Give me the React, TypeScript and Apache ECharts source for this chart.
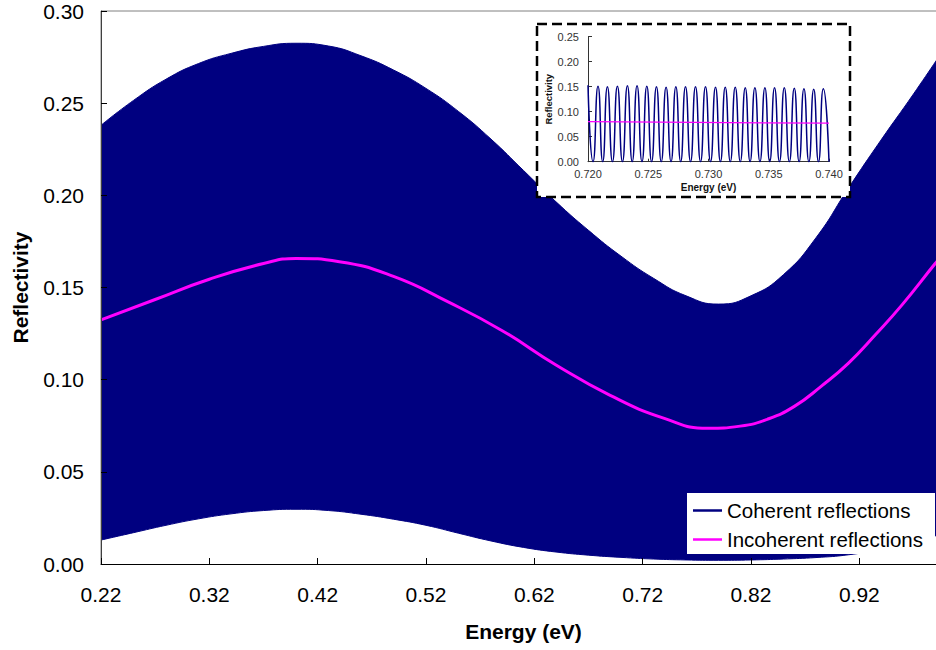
import React, { useEffect, useRef } from "react";
import * as echarts from "echarts";

// ---- Main chart data ----
const envEnergy = [0.22, 0.25, 0.28, 0.31, 0.34, 0.37, 0.40, 0.43, 0.46, 0.49, 0.52, 0.55, 0.58, 0.61, 0.64, 0.67, 0.70, 0.73, 0.76, 0.79, 0.82, 0.85, 0.88, 0.91, 0.94, 0.97, 1.00];
const coherentUpper = [0.238, 0.2515, 0.263, 0.2715, 0.277, 0.2808, 0.2825, 0.281, 0.2757, 0.268, 0.258, 0.2455, 0.2305, 0.2135, 0.1965, 0.181, 0.167, 0.155, 0.1455, 0.141, 0.1455, 0.157, 0.177, 0.204, 0.230, 0.255, 0.281];
const coherentLower = [0.013, 0.017, 0.021, 0.0245, 0.0272, 0.029, 0.0297, 0.029, 0.027, 0.0243, 0.021, 0.0167, 0.0125, 0.009, 0.0065, 0.0048, 0.0036, 0.0027, 0.0022, 0.002, 0.0022, 0.0027, 0.0035, 0.005, 0.008, 0.012, 0.017];

const incEnergy = [0.22, 0.27, 0.32, 0.37, 0.40, 0.44, 0.49, 0.54, 0.59, 0.64, 0.69, 0.74, 0.78, 0.81, 0.835, 0.86, 0.885, 0.91, 0.935, 0.96, 0.99, 1.0];
const incoherent = [0.1324, 0.1435, 0.1545, 0.163, 0.1658, 0.164, 0.156, 0.1423, 0.1267, 0.108, 0.0915, 0.079, 0.0736, 0.0748, 0.0785, 0.0855, 0.0965, 0.109, 0.1245, 0.141, 0.163, 0.170];

// ---- Inset data ----
const insetEnergy = [0.72000, 0.72042, 0.72083, 0.72122, 0.72161, 0.72203, 0.72244, 0.72286, 0.72327, 0.72367, 0.72407, 0.72448, 0.72488, 0.72528, 0.72568, 0.72608, 0.72648, 0.72689, 0.72729, 0.72769, 0.72809, 0.72851, 0.72892, 0.72934, 0.72975, 0.73017, 0.73058, 0.73099, 0.73139, 0.73181, 0.73222, 0.73264, 0.73305, 0.73345, 0.73385, 0.73427, 0.73468, 0.73508, 0.73548, 0.73589, 0.73629, 0.73671, 0.73712, 0.73752, 0.73792, 0.73833, 0.73873, 0.73913, 0.73953, 0.74000];
const insetCoherent = [0.153, 0, 0.151, 0, 0.150, 0, 0.151, 0, 0.152, 0, 0.152, 0, 0.151, 0, 0.150, 0, 0.149, 0, 0.150, 0, 0.150, 0, 0.150, 0, 0.150, 0, 0.149, 0, 0.149, 0, 0.149, 0, 0.148, 0, 0.148, 0, 0.148, 0, 0.148, 0, 0.148, 0, 0.147, 0, 0.146, 0, 0.145, 0, 0.146, 0];
const insetIncEnergy = [0.720, 0.740];
const insetIncoherent = [0.080, 0.077];

const NAVY = "#000080";
const MAGENTA = "#FF00FF";
const FONT = "'Liberation Sans', Arial, sans-serif";

export default function App() {
  const ref = useRef<HTMLDivElement>(null);
  useEffect(() => {
    if (!ref.current) return;
    const chart = echarts.init(ref.current, undefined, { renderer: "svg" });
    const upperData = envEnergy.map((e, i) => [e, coherentUpper[i]]);
    const lowerData = envEnergy.map((e, i) => [e, coherentLower[i]]);
    const incData = incEnergy.map((e, i) => [e, incoherent[i]]);
    const insetCohData = insetEnergy.map((e, i) => [e, insetCoherent[i]]);
    const insetIncData = insetIncEnergy.map((e, i) => [e, insetIncoherent[i]]);

    chart.setOption({
      animation: false,
      backgroundColor: "#ffffff",
      textStyle: { fontFamily: FONT },
      grid: [
        { left: 101, top: 11, width: 845, bottom: 86, show: true, borderColor: "#808080", borderWidth: 1, backgroundColor: "transparent", outerBoundsMode: "none", containLabel: false },
        { left: 588, top: 36.7, width: 241, height: 125, show: false, outerBoundsMode: "none", containLabel: false },
      ],
      graphic: [
        {
          type: "rect",
          z: 50,
          shape: { x: 537, y: 24, width: 313, height: 173 },
          style: { fill: "#ffffff", stroke: "#000000", lineWidth: 2.5, lineDash: [10, 5] },
        },
      ],
      legend: {
        z: 100,
        left: 687,
        top: 493,
        orient: "vertical",
        backgroundColor: "#ffffff",
        padding: [7, 12, 4, 6],
        itemGap: 8,
        itemWidth: 29,
        itemHeight: 2.5,
        textStyle: { fontSize: 20.5, color: "#000", fontFamily: FONT },
        data: [
          { name: "Coherent reflections", icon: "rect", itemStyle: { color: NAVY } },
          { name: "Incoherent reflections", icon: "rect", itemStyle: { color: MAGENTA } },
        ],
      },
      xAxis: [
        {
          gridIndex: 0,
          type: "value",
          min: 0.22,
          max: 1.0,
          interval: 0.1,
          z: 10,
          name: "Energy (eV)",
          nameLocation: "middle",
          nameGap: 57,
          nameTextStyle: { fontSize: 21, fontWeight: "bold", color: "#000", fontFamily: FONT },
          axisLine: { show: true, lineStyle: { color: "#000", width: 1 } },
          axisTick: { show: true, inside: true, length: 6, lineStyle: { color: "#000" } },
          axisLabel: { fontSize: 21, color: "#000", margin: 20, showMaxLabel: false, formatter: (v: number) => v.toFixed(2) },
          splitLine: { show: false },
        },
        {
          gridIndex: 1,
          type: "value",
          min: 0.72,
          max: 0.74,
          interval: 0.005,
          z: 60,
          name: "Energy (eV)",
          nameLocation: "middle",
          nameGap: 21,
          nameTextStyle: { fontSize: 10, fontWeight: "bold", color: "#111", fontFamily: FONT },
          axisLine: { show: true, lineStyle: { color: "#333", width: 1 } },
          axisTick: { show: true, inside: true, length: 3, lineStyle: { color: "#333" } },
          axisLabel: { fontSize: 11, color: "#333", margin: 7, formatter: (v: number) => v.toFixed(3) },
          splitLine: { show: false },
        },
      ],
      yAxis: [
        {
          gridIndex: 0,
          type: "value",
          min: 0,
          max: 0.3,
          interval: 0.05,
          z: 10,
          name: "Reflectivity",
          nameLocation: "middle",
          nameGap: 70,
          nameTextStyle: { fontSize: 21, fontWeight: "bold", color: "#000", fontFamily: FONT },
          axisLine: { show: true, lineStyle: { color: "#404040", width: 1 } },
          axisTick: { show: true, inside: true, length: 6, lineStyle: { color: "#000" } },
          axisLabel: { fontSize: 21, color: "#000", margin: 17, formatter: (v: number) => v.toFixed(2) },
          splitLine: { show: false },
        },
        {
          gridIndex: 1,
          type: "value",
          min: 0,
          max: 0.25,
          interval: 0.05,
          z: 60,
          name: "Reflectivity",
          nameLocation: "middle",
          nameGap: 35,
          nameTextStyle: { fontSize: 9.5, fontWeight: "bold", color: "#111", fontFamily: FONT },
          axisLine: { show: true, lineStyle: { color: "#333", width: 1 } },
          axisTick: { show: true, inside: true, length: 4, lineStyle: { color: "#333" } },
          axisLabel: { fontSize: 11, color: "#333", margin: 9, formatter: (v: number) => v.toFixed(2) },
          splitLine: { show: false },
        },
      ],
      series: [
        {
          name: "Coherent reflections",
          type: "line",
          xAxisIndex: 0,
          yAxisIndex: 0,
          data: upperData,
          symbol: "none",
          smooth: 0.5,
          lineStyle: { color: NAVY, width: 1 },
          itemStyle: { color: NAVY },
          areaStyle: { color: NAVY, opacity: 1, origin: "start" },
          z: 2,
        },
        {
          name: "coherentLowerEnvelope",
          type: "line",
          xAxisIndex: 0,
          yAxisIndex: 0,
          data: lowerData,
          symbol: "none",
          smooth: 0.5,
          silent: true,
          lineStyle: { color: NAVY, width: 1 },
          areaStyle: { color: "#ffffff", opacity: 1, origin: "start" },
          z: 3,
        },
        {
          name: "Incoherent reflections",
          type: "line",
          xAxisIndex: 0,
          yAxisIndex: 0,
          data: incData,
          symbol: "none",
          smooth: 0.5,
          lineStyle: { color: MAGENTA, width: 3 },
          itemStyle: { color: MAGENTA },
          z: 4,
        },
        {
          name: "insetCoherent",
          type: "line",
          xAxisIndex: 1,
          yAxisIndex: 1,
          data: insetCohData,
          symbol: "none",
          smooth: 0.6,
          lineStyle: { color: NAVY, width: 1.5 },
          z: 70,
        },
        {
          name: "insetIncoherent",
          type: "line",
          xAxisIndex: 1,
          yAxisIndex: 1,
          data: insetIncData,
          symbol: "none",
          lineStyle: { color: MAGENTA, width: 1.2 },
          z: 71,
        },
      ],
    });
    return () => chart.dispose();
  }, []);
  return <div ref={ref} style={{ position: "absolute", left: 0, top: 0, width: 936, height: 650 }} />;
}
